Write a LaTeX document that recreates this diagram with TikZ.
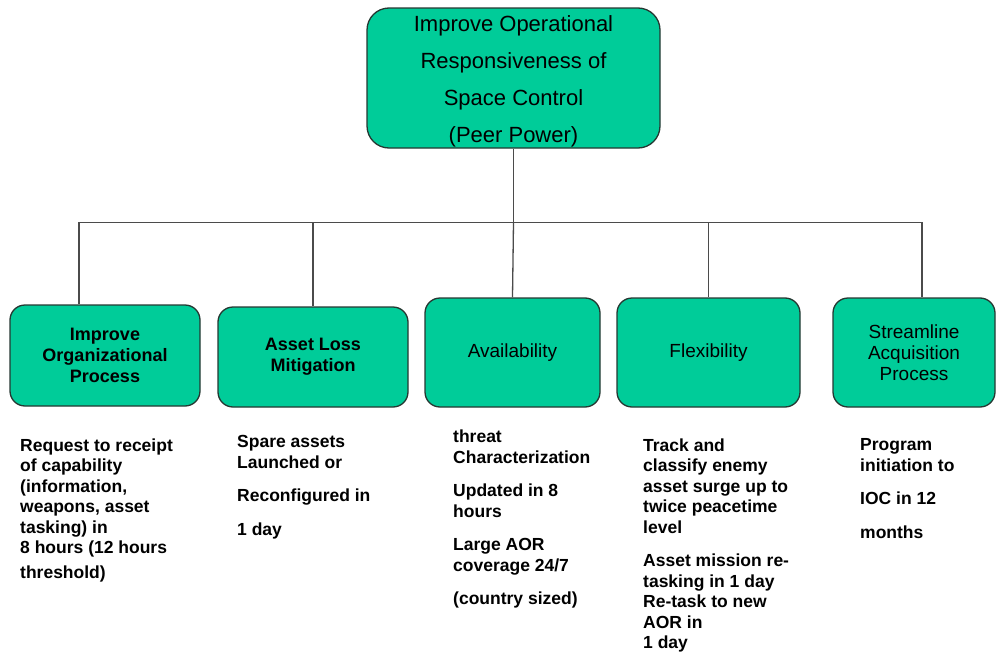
\documentclass[tikz,border=0pt]{standalone}
\usepackage{fontspec}
\setmainfont{Liberation Sans}
\usepackage{tikz}
\usetikzlibrary{positioning}
\definecolor{goalgreen}{RGB}{0,204,153}
\definecolor{goaledge}{RGB}{38,56,50}
\definecolor{linkgrey}{RGB}{75,75,75}

\begin{document}
\begin{tikzpicture}[x=1pt, y=-1pt,
    goal/.style={rectangle, draw=goaledge, line width=1.3pt, fill=goalgreen,
        rounded corners=22pt, minimum width=293pt, minimum height=140pt,
        align=center, inner sep=0pt, font=\fontsize{22}{37}\selectfont},
    sub/.style={rectangle, draw=goaledge, line width=1.3pt, fill=goalgreen,
        rounded corners=15pt, align=center, inner sep=0pt,
        font=\fontsize{19}{20.8}\selectfont},
    subbold/.style={sub, font=\bfseries\fontsize{18}{20.8}\selectfont},
    req/.style={anchor=north west, align=left, inner sep=0pt,
        font=\bfseries\fontsize{17.5}{20.5}\selectfont},
    link/.style={draw=linkgrey, line width=1.3pt}
]
    \useasboundingbox (0,0) rectangle (997,653);

    % ---- Goal (top) ----
    \node[goal] (top) at (513.5,78)
        {\rule{0pt}{23pt}Improve Operational\\Responsiveness of\\Space Control\\(Peer Power)};

    % ---- Sub-goals (middle row) ----
    \node[subbold, minimum width=190pt, minimum height=101pt] (c1) at (105,355.5)
        {Improve\\Organizational\\Process};
    \node[subbold, minimum width=190pt, minimum height=100pt] (c2) at (313,357)
        {Asset Loss\\Mitigation};
    \node[sub, minimum width=175pt, minimum height=109pt] (c3) at (512.5,352.5) {Availability};
    \node[sub, minimum width=183pt, minimum height=109pt] (c4) at (708.5,352.5) {Flexibility};
    \node[sub, minimum width=162pt, minimum height=109pt] (c5) at (914,352.5)
        {Streamline\\Acquisition\\Process};

    % tree connectors
    \coordinate[below=74pt of top.south] (bus);
    \draw[link] (top.south) -- (bus);
    \draw[link] (bus) -| ([xshift=-26pt]c1.north);
    \draw[link] (bus) -| (c2.north);
    \draw[link] (bus) -- (c3.north);
    \draw[link] (bus) -| (c4.north);
    \draw[link] (bus) -| ([xshift=8pt]c5.north);

    % ---- Requirements (bottom row) ----
    \node[req] (r1) at (20,438.5)
        {Request to receipt\\of capability\\(information,\\weapons, asset\\tasking) in\\8 hours (12 hours\\[4pt]threshold)};
    \node[req] (r2) at (237,435.5)
        {Spare assets\\Launched or\\[13pt]Reconfigured in\\[13pt]1 day};
    \node[req] (r3) at (453,430)
        {threat\\Characterization\\[13pt]Updated in 8\\hours\\[13pt]Large AOR\\coverage 24/7\\[13pt](country sized)};
    \node[req] (r4) at (643,438.5)
        {Track and\\classify enemy\\asset surge up to\\twice peacetime\\level\\[13pt]Asset mission re-\\tasking in 1 day\\Re-task to new\\AOR in\\1 day};
    \node[req] (r5) at (860,438.5)
        {Program\\initiation to\\[13pt]IOC in 12\\[13pt]months};
\end{tikzpicture}
\end{document}
